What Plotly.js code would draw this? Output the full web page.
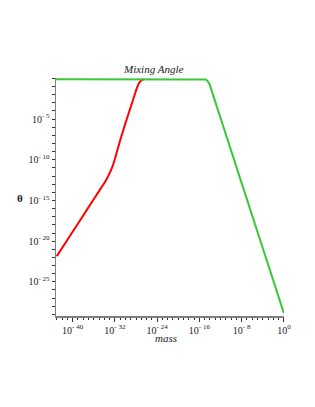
<!DOCTYPE html>
<html>
<head>
<meta charset="utf-8">
<script src="https://cdn.plot.ly/plotly-3.0.1.min.js"></script>
<style>html,body{margin:0;padding:0;background:#fff;}#chart{width:315px;height:407px;}</style>
</head>
<body>
<div id="chart"></div>
<script>
// log10(mass) and log10(theta)
const redLogMass  = [-43, -40, -37, -35, -34, -33.5, -33, -32.5, -32, -31.5, -31, -30.5, -30, -29, -28.5, -28, -27.6, -27.3, -27, -26.7, -26.4];
const redLogTheta = [-21.85, -18.85, -15.85, -13.85, -12.85, -12.3, -11.65, -10.9, -9.9, -8.75, -7.6, -6.55, -5.5, -3.5, -2.5, -1.5, -0.8, -0.45, -0.25, -0.14, -0.105];
const greenLogMass  = [-43.15, -30, -20, -15.3, -15, -14.8, -14.6, -14.4, -14.2, -14, -10, -5, 0];
const greenLogTheta = [-0.105, -0.105, -0.105, -0.105, -0.11, -0.14, -0.22, -0.36, -0.55, -0.85, -8.85, -18.85, -28.85];
const xTickExp = [-40, -32, -24, -16, -8, 0];
const yTickExp = [-5, -10, -15, -20, -25];

const pow10 = a => a.map(v => Math.pow(10, v));
const label = e => '10<sup>' + (e < 0 ? '- ' + (-e) : String(e)) + '</sup>';

const serif = 'Liberation Serif, Times New Roman, serif';
const traces = [
  {x: pow10(redLogMass), y: pow10(redLogTheta), mode: 'lines', line: {color: '#ff0000', width: 2, shape: 'spline', smoothing: 0.6}, hoverinfo: 'none'},
  {x: pow10(greenLogMass), y: pow10(greenLogTheta), mode: 'lines', line: {color: '#38c838', width: 2}, hoverinfo: 'none'}
];
const axisCommon = {
  type: 'log', showgrid: false, zeroline: false, showline: true, linecolor: '#808080', linewidth: 1.5,
  ticks: 'outside', ticklen: 4, tickwidth: 1, tickcolor: '#333', tickmode: 'array',
  tickfont: {family: serif, size: 10, color: '#222'},
  minor: {tickmode: 'linear', tick0: 0, dtick: 1, ticks: 'outside', ticklen: 2.5, tickwidth: 1, tickcolor: '#333', showgrid: false}
};
const layout = {
  width: 315, height: 407,
  margin: {l: 56, r: 31, t: 78, b: 91},
  paper_bgcolor: '#fff', plot_bgcolor: '#fff',
  showlegend: false,
  xaxis: Object.assign({}, axisCommon, {range: [-43.15, 0.02], tickvals: pow10(xTickExp), ticktext: xTickExp.map(label), ticklabelstandoff: 0}),
  yaxis: Object.assign({}, axisCommon, {range: [-29.2, 0.05], tickvals: pow10(yTickExp), ticktext: yTickExp.map(label), ticklen: 3}),
  annotations: [
    {text: '<i>Mixing Angle</i>', xref: 'paper', yref: 'paper', x: 0.425, y: 1.036, showarrow: false, font: {family: serif, size: 11, color: '#222'}, xanchor: 'center', yanchor: 'middle'},
    {text: '<i>mass</i>', xref: 'paper', yref: 'paper', x: 0.482, y: -0.091, showarrow: false, font: {family: serif, size: 11, color: '#222'}, xanchor: 'center', yanchor: 'middle'},
    {text: '<b>θ</b>', xref: 'paper', yref: 'paper', x: -0.16, y: 0.497, showarrow: false, font: {family: serif, size: 11, color: '#222'}, xanchor: 'center', yanchor: 'middle'}
  ]
};
Plotly.newPlot('chart', traces, layout, {staticPlot: true, displayModeBar: false});
</script>
</body>
</html>
